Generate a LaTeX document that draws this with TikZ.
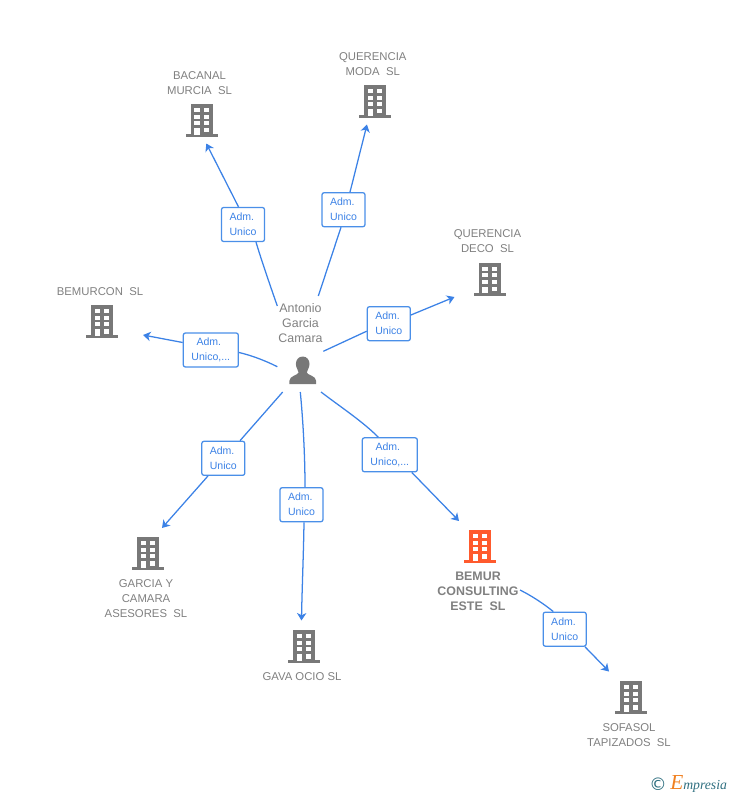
\documentclass[tikz,border=0pt]{standalone}
\usepackage{fontspec}
\setmainfont{Liberation Sans}
\newfontfamily\logofont{Liberation Serif}
\newfontfamily\symfont{DejaVu Sans}
\usetikzlibrary{arrows.meta,calc}
\definecolor{bluel}{HTML}{3C82E6}
\definecolor{blueb}{HTML}{4A8FE8}
\definecolor{greyt}{HTML}{808080}
\definecolor{greyb}{HTML}{787878}
\definecolor{orangeb}{HTML}{FF5A2D}
\definecolor{teal1}{HTML}{2F6F80}
\definecolor{orange1}{HTML}{F08020}
\tikzset{
  x=0.75pt,y=-0.75pt,
  conn/.style={draw=bluel,line width=0.95pt},
  arrowed/.style={conn,-{Stealth[length=5.6pt,width=7pt,inset=1.6pt]}},
  rolebox/.style={draw=blueb,fill=white,line width=0.95pt,rounded corners=1.6pt,inner sep=0pt,
    minimum width=32.25pt,minimum height=25.5pt,align=left,text=bluel,
    font=\fontsize{7.9}{11.25}\selectfont},
  rolewide/.style={rolebox,minimum width=41.25pt,align=center},
  titletext/.style={text=greyt,align=center,inner sep=0pt,font=\fontsize{8.5}{11.25}\selectfont},
  boldtext/.style={titletext,font=\fontsize{9.3}{11.25}\selectfont\bfseries},
  persontext/.style={titletext,font=\fontsize{9.3}{11.25}\selectfont},
  bldbox/.style={inner sep=0pt,minimum width=24pt,minimum height=25pt},
}
\newcommand{\bldg}[4]{% name, cx, top, colour
  \node[bldbox] (#1) at (#2,#3+16.5) {};
  \begin{scope}[shift={(#2,#3)}]
    \fill[#4] (-11,0) rectangle (11,31);
    \fill[#4] (-16,30.4) rectangle (16,33);
    \foreach \wx in {-7.3,2}{
      \foreach \wy in {4,10.7,17.3}{
        \fill[white] (\wx,\wy) rectangle ++(5.3,4);
      }
    }
    \fill[white] (-7.3,24) rectangle ++(5.3,6.6);
    \fill[white] (2,24) rectangle ++(5.3,4.5);
  \end{scope}
}
\begin{document}
\begin{tikzpicture}
\useasboundingbox (0,0) rectangle (728,795);
% buildings
\bldg{bacanal}{201.7}{104}{greyb}
\bldg{moda}{375}{85}{greyb}
\bldg{deco}{489.5}{262.5}{greyb}
\bldg{bemurcon}{102}{305}{greyb}
\bldg{garcia}{148}{537}{greyb}
\bldg{gava}{304}{630}{greyb}
\bldg{bemur}{480}{530}{orangeb}
\bldg{sofasol}{631}{681}{greyb}
% titles
\node[titletext] (tbacanal) at (199.5,83.5) {BACANAL\\MURCIA~~SL};
\node[titletext] (tmoda) at (372.8,64.5) {QUERENCIA\\MODA~~SL};
\node[titletext] (tdeco) at (487.5,241.5) {QUERENCIA\\DECO~~SL};
\node[titletext] (tbemurcon) at (100,292) {BEMURCON~~SL};
\node[titletext] (tgarcia) at (146,599) {GARCIA Y\\CAMARA\\ASESORES~~SL};
\node[titletext] (tgava) at (302,677) {GAVA OCIO SL};
\node[boldtext] (tbemur) at (478,591.5) {BEMUR\\CONSULTING\\ESTE~~SL};
\node[titletext] (tsofasol) at (629,735.5) {SOFASOL\\TAPIZADOS~~SL};
\node[persontext] (antonio) at (300.5,323.5) {Antonio\\Garcia\\Camara};
% person
\node[inner sep=0pt,minimum width=20pt,minimum height=21pt] (person) at (302.7,370.5) {};
\fill[greyb] (302.7,356.5) .. controls (307,356.5) and (309.5,360) .. (309.5,364)
  .. controls (309.5,368) and (307,370) .. (306.8,372.5)
  .. controls (307,375) and (316,375.5) .. (316.2,381) -- (316.2,384.2) -- (289.3,384.2) -- (289.3,381)
  .. controls (289.5,375.5) and (298.5,375) .. (298.6,372.5)
  .. controls (298.4,370) and (295.9,368) .. (295.9,364)
  .. controls (295.9,360) and (298.4,356.5) .. (302.7,356.5) -- cycle;
% role boxes
\node[rolebox] (rbacanal) at (243,224.5) {Adm.\\Unico};
\node[rolebox] (rmoda) at (343.5,209.7) {Adm.\\Unico};
\node[rolebox] (rdeco) at (388.8,323.7) {Adm.\\Unico};
\node[rolewide] (rbemurcon) at (210.8,350) {Adm.\hspace*{3pt}\\Unico,...};
\node[rolebox] (rgarcia) at (223.3,458.3) {Adm.\\Unico};
\node[rolebox] (rgava) at (301.5,504.7) {Adm.\\Unico};
\node[rolewide] (rbemur) at (389.8,454.8) {Adm.\hspace*{3pt}\\Unico,...};
\node[rolebox] (rsofasol) at (564.7,629.2) {Adm.\\Unico};
% free ends
\coordinate (sbacanal) at (277.3,306);
\coordinate (smoda) at (318.3,296);
\coordinate (sdeco) at (323.3,351.3);
\coordinate (sbemurcon) at (277.3,366.7);
\coordinate (sgarcia) at (282.7,392);
\coordinate (sgava) at (300.3,392);
\coordinate (sbemur) at (321,392);
\coordinate (ssofasol) at (520,590);
\coordinate (ebacanal) at (206.3,143.5);
\coordinate (emoda) at (367,124.5);
\coordinate (edeco) at (454.5,297);
\coordinate (ebemurcon) at (143,335);
\coordinate (egarcia) at (162,528);
\coordinate (egava) at (301.5,620.5);
\coordinate (ebemur) at (459,521);
\coordinate (esofasol) at (609,671.5);
% connectors
\draw[conn] (sbacanal) .. controls (270,285) and (262,262) .. ($(rbacanal.south)+(13,0)$);
\draw[arrowed] ($(rbacanal.north)+(-4.5,0)$) -- (ebacanal);
\draw[conn] (smoda) -- ($(rmoda.south)+(-2.5,0)$);
\draw[arrowed] ($(rmoda.north)+(6.5,0)$) -- (emoda);
\draw[conn] (sdeco) -- ($(rdeco.west)+(0,7.5)$);
\draw[arrowed] ($(rdeco.east)+(0,-8.7)$) -- (edeco);
\draw[conn] (sbemurcon) .. controls (264,360) and (250,355) .. ($(rbemurcon.east)+(0,2.5)$);
\draw[arrowed] ($(rbemurcon.west)+(0,-7.5)$) -- (ebemurcon);
\draw[conn] (sgarcia) -- ($(rgarcia.north)+(16.7,0)$);
\draw[arrowed] ($(rgarcia.south)+(-15.3,0)$) -- (egarcia);
\draw[conn] (sgava) .. controls (303,420) and (305,455) .. ($(rgava.north)+(3.5,0)$);
\draw[arrowed] ($(rgava.south)+(2.5,0)$) .. controls (303.5,555) and (302,590) .. (egava);
\draw[conn] (sbemur) .. controls (342,408) and (362,421) .. ($(rbemur.north)+(-11.5,0)$);
\draw[arrowed] ($(rbemur.south)+(22,0)$) -- (ebemur);
\draw[conn] (ssofasol) .. controls (532,596) and (544,604) .. ($(rsofasol.north)+(-11.4,0)$);
\draw[arrowed] ($(rsofasol.south)+(20.3,0)$) -- (esofasol);
% logo
\node[inner sep=0pt,text=teal1,font=\symfont\fontsize{13}{13}\selectfont] (logoc) at (658,784) {©};
\node[inner sep=0pt,text=orange1,font=\logofont\itshape\fontsize{16}{16}\selectfont,anchor=base west] (logoe) at (670,789) {E};
\node[inner sep=0pt,text=teal1,font=\logofont\itshape\fontsize{10.3}{11}\selectfont,anchor=base west] (logot) at (683,789) {mpresia};
\end{tikzpicture}
\end{document}
